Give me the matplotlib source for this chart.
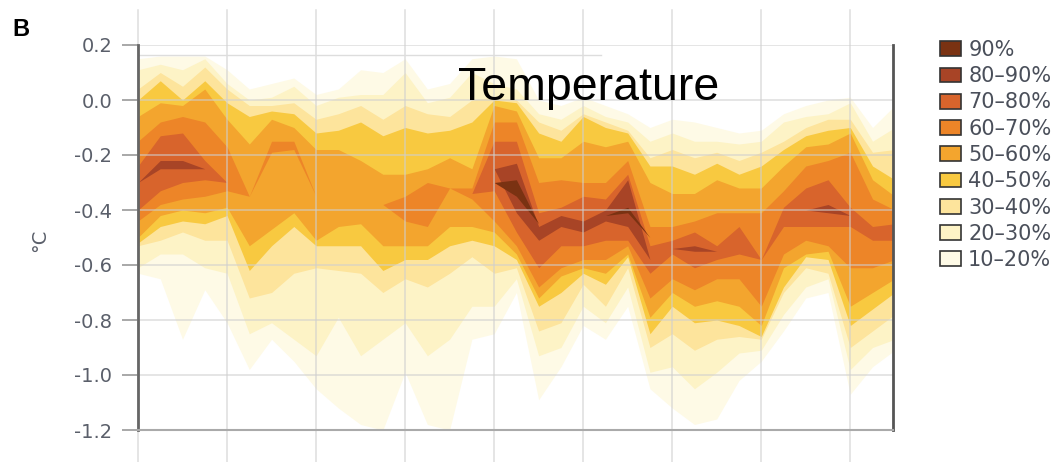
import numpy as np
import matplotlib.pyplot as plt
from matplotlib.patches import Patch

plt.rcParams['axes.unicode_minus'] = False

# sample positions along the (unlabelled) x axis, in grid-interval units
t = np.arange(35) * 0.25

# band bounds (degC), outermost 10-20% band first
b10_top = [0.15, 0.16, 0.16, 0.16, 0.11, 0.04, 0.06, 0.08, 0.02, 0.04, 0.11, 0.10, 0.15, 0.04, 0.06, 0.15, 0.16, 0.15,
           0.00, -0.02, 0.01, -0.02, -0.05, -0.10, -0.07, -0.08, -0.10, -0.12, -0.11, -0.05, -0.02, 0.00, 0.01, -0.10, -0.02]
b10_bot = [-0.63, -0.65, -0.87, -0.69, -0.81, -0.98, -0.87, -0.95, -1.05, -1.12, -1.18, -1.20, -0.99, -1.18, -1.20, -0.87,
           -0.85, -0.70, -1.09, -0.97, -0.82, -0.87, -0.75, -1.05, -1.12, -1.18, -1.16, -1.02, -0.95, -0.84, -0.72, -0.70,
           -1.07, -0.97, -0.91]
b20_top = [0.11, 0.13, 0.11, 0.15, 0.06, 0.00, 0.01, 0.05, -0.02, 0.01, 0.02, 0.02, 0.10, -0.01, 0.01, 0.10, 0.06, 0.04,
           -0.05, -0.07, -0.02, -0.06, -0.08, -0.15, -0.12, -0.15, -0.15, -0.16, -0.15, -0.08, -0.06, -0.05, -0.01, -0.15, -0.10]
b20_bot = [-0.61, -0.56, -0.56, -0.61, -0.63, -0.85, -0.81, -0.87, -0.93, -0.79, -0.93, -0.87, -0.81, -0.93, -0.87, -0.75,
           -0.75, -0.65, -0.93, -0.90, -0.75, -0.81, -0.68, -0.99, -0.97, -1.05, -0.99, -0.92, -0.91, -0.78, -0.68, -0.65,
           -0.98, -0.90, -0.87]
b30_top = [0.04, 0.10, 0.05, 0.12, 0.04, -0.02, -0.02, -0.01, -0.07, -0.05, -0.02, -0.07, -0.02, -0.05, -0.06, 0.00, 0.01,
           0.00, -0.08, -0.11, -0.05, -0.08, -0.11, -0.21, -0.18, -0.21, -0.19, -0.22, -0.19, -0.15, -0.10, -0.07, -0.07,
           -0.19, -0.18]
b30_bot = [-0.53, -0.51, -0.48, -0.51, -0.51, -0.72, -0.70, -0.63, -0.61, -0.62, -0.63, -0.70, -0.65, -0.68, -0.63, -0.57,
           -0.63, -0.61, -0.84, -0.81, -0.67, -0.75, -0.61, -0.90, -0.85, -0.91, -0.87, -0.86, -0.87, -0.70, -0.61, -0.63,
           -0.90, -0.84, -0.78]
b40_top = [0.00, 0.07, 0.00, 0.07, -0.01, -0.06, -0.04, -0.05, -0.12, -0.11, -0.08, -0.13, -0.10, -0.12, -0.11, -0.08, 0.00,
           -0.01, -0.12, -0.15, -0.06, -0.10, -0.12, -0.24, -0.24, -0.27, -0.23, -0.27, -0.24, -0.18, -0.13, -0.11, -0.10,
           -0.24, -0.29]
b40_bot = [-0.52, -0.46, -0.44, -0.45, -0.42, -0.62, -0.53, -0.46, -0.53, -0.53, -0.53, -0.62, -0.58, -0.58, -0.53, -0.51,
           -0.53, -0.58, -0.75, -0.70, -0.63, -0.67, -0.57, -0.85, -0.75, -0.81, -0.80, -0.82, -0.86, -0.68, -0.57, -0.58,
           -0.82, -0.76, -0.70]
b50_top = [-0.06, -0.01, -0.02, 0.04, -0.07, -0.16, -0.07, -0.10, -0.18, -0.18, -0.22, -0.27, -0.27, -0.25, -0.21, -0.25,
           -0.02, -0.04, -0.21, -0.21, -0.15, -0.17, -0.15, -0.30, -0.34, -0.34, -0.29, -0.32, -0.32, -0.24, -0.17, -0.16,
           -0.12, -0.29, -0.35]
b50_bot = [-0.50, -0.42, -0.40, -0.41, -0.39, -0.53, -0.47, -0.41, -0.51, -0.46, -0.45, -0.53, -0.53, -0.53, -0.46, -0.46,
           -0.48, -0.56, -0.72, -0.64, -0.61, -0.63, -0.56, -0.79, -0.70, -0.75, -0.73, -0.75, -0.82, -0.61, -0.56, -0.55,
           -0.75, -0.70, -0.65]
b60_top = [-0.15, -0.08, -0.06, -0.08, -0.17, -0.35, -0.15, -0.15, -0.35, -0.33, -0.32, -0.38, -0.35, -0.30, -0.32, -0.32,
           -0.08, -0.08, -0.30, -0.29, -0.30, -0.30, -0.22, -0.46, -0.46, -0.44, -0.41, -0.41, -0.41, -0.33, -0.24, -0.22,
           -0.19, -0.36, -0.40]
b60_bot = [-0.44, -0.38, -0.36, -0.35, -0.33, -0.35, -0.19, -0.18, -0.35, -0.33, -0.32, -0.38, -0.44, -0.46, -0.32, -0.36,
           -0.44, -0.53, -0.68, -0.61, -0.58, -0.58, -0.53, -0.72, -0.65, -0.69, -0.65, -0.65, -0.75, -0.56, -0.51, -0.53,
           -0.61, -0.61, -0.58]
b70_top = [-0.24, -0.13, -0.12, -0.22, -0.30, -0.35, -0.17, -0.17, -0.35, -0.33, -0.32, -0.38, -0.40, -0.38, -0.32, -0.34,
           -0.15, -0.15, -0.41, -0.39, -0.35, -0.36, -0.27, -0.53, -0.51, -0.48, -0.53, -0.46, -0.58, -0.39, -0.32, -0.29,
           -0.39, -0.46, -0.45]
b70_bot = [-0.40, -0.33, -0.30, -0.29, -0.30, -0.35, -0.17, -0.17, -0.35, -0.33, -0.32, -0.38, -0.40, -0.38, -0.32, -0.34,
           -0.33, -0.48, -0.61, -0.53, -0.53, -0.51, -0.51, -0.63, -0.56, -0.61, -0.58, -0.56, -0.58, -0.46, -0.46, -0.46,
           -0.46, -0.51, -0.51]
b80_top = [-0.30, -0.22, -0.22, -0.25, -0.30, -0.35, -0.17, -0.17, -0.35, -0.33, -0.32, -0.38, -0.40, -0.38, -0.32, -0.34,
           -0.25, -0.23, -0.46, -0.42, -0.44, -0.40, -0.29, -0.58, -0.54, -0.53, -0.55, -0.50, -0.58, -0.42, -0.40, -0.38,
           -0.42, -0.48, -0.48]
b80_bot = [-0.30, -0.25, -0.25, -0.25, -0.30, -0.35, -0.17, -0.17, -0.35, -0.33, -0.32, -0.38, -0.40, -0.38, -0.32, -0.34,
           -0.25, -0.41, -0.51, -0.46, -0.48, -0.44, -0.46, -0.58, -0.54, -0.55, -0.55, -0.50, -0.58, -0.42, -0.40, -0.41,
           -0.42, -0.48, -0.48]
b90_top = [-0.30, -0.30, -0.30, -0.30, -0.30, -0.30, -0.30, -0.30, -0.30, -0.30, -0.30, -0.30, -0.30, -0.30, -0.30, -0.30,
           -0.30, -0.29, -0.45, -0.44, -0.44, -0.42, -0.39, -0.50, -0.50, -0.50, -0.50, -0.50, -0.50, -0.50, -0.50, -0.50,
           -0.50, -0.50, -0.50]
b90_bot = [-0.30, -0.30, -0.30, -0.30, -0.30, -0.30, -0.30, -0.30, -0.30, -0.30, -0.30, -0.30, -0.30, -0.30, -0.30, -0.30,
           -0.30, -0.35, -0.45, -0.44, -0.44, -0.42, -0.41, -0.50, -0.50, -0.50, -0.50, -0.50, -0.50, -0.50, -0.50, -0.50,
           -0.50, -0.50, -0.50]

bands = [
    ("10\u201320%", "#fefae6", b10_top, b10_bot),
    ("20\u201330%", "#fdf3c6", b20_top, b20_bot),
    ("30\u201340%", "#fde49c", b30_top, b30_bot),
    ("40\u201350%", "#f8c940", b40_top, b40_bot),
    ("50\u201360%", "#f3a52e", b50_top, b50_bot),
    ("60\u201370%", "#ed8528", b60_top, b60_bot),
    ("70\u201380%", "#d8642c", b70_top, b70_bot),
    ("80\u201390%", "#a84426", b80_top, b80_bot),
    ("90%", "#7a3212", b90_top, b90_bot),
]

yticks = [0.2, 0.0, -0.2, -0.4, -0.6, -0.8, -1.0, -1.2]

W, H = 1064, 462
fig = plt.figure(figsize=(W / 100, H / 100), dpi=100)
ax = fig.add_axes([138 / W, 1 - 430 / H, (893 - 138) / W, 385 / H])

for label, color, top, bot in bands:
    ax.fill_between(t, bot, top, color=color, linewidth=0, zorder=1)

ax.set_xlim(0, 8.48)
ax.set_ylim(-1.2, 0.2)
ax.set_yticks(yticks)
ax.set_yticklabels([f"{v:.1f}" for v in yticks])
ax.set_xticks(range(9))
ax.set_xticklabels([])
ax.tick_params(axis='x', length=0)
ax.tick_params(axis='y', length=11.5, width=1.2, color='#999999', labelsize=14,
               labelcolor='#5a5f6a', pad=7)

# grid lines, the vertical ones run past the frame like in the original
for y in yticks:
    ax.axhline(y, color='#cfcfcf', lw=1.1, alpha=0.7, zorder=2)
for x in range(9):
    ax.axvline(x, ymin=-0.085, ymax=1.09, color='#cfcfcf', lw=1.1, alpha=0.7,
               clip_on=False, zorder=2)
ax.plot([0, 5.2], [0.165, 0.165], color='#dddddd', lw=1, zorder=2)

ax.spines['top'].set_visible(False)
ax.spines['left'].set_color('#666666')
ax.spines['left'].set_linewidth(2)
ax.spines['right'].set_color('#555555')
ax.spines['right'].set_linewidth(2)
ax.spines['bottom'].set_color('#aaaaaa')
ax.spines['bottom'].set_linewidth(1.5)

fig.text(40 / W, 1 - 240 / H, "\u00b0C", rotation=90, fontsize=14, color='#5a5f6a',
         ha='center', va='center')
fig.text(12 / W, 1 - 29 / H, "B", fontsize=17, fontweight='bold', family='Liberation Sans',
         ha='left', va='center')
fig.text(458 / W, 1 - 100 / H, "Temperature", fontsize=33.5, family='Liberation Sans',
         ha='left', va='baseline')

handles = [Patch(facecolor=c, edgecolor='#333333', linewidth=1.2, label=lab)
           for lab, c, _, _ in bands[::-1]]
fig.legend(handles=handles, loc='upper left', bbox_to_anchor=(940 / W, 1 - 40 / H),
           frameon=False, fontsize=15, handlelength=1.0, handleheight=0.7,
           handletextpad=0.35, labelspacing=0.3, borderpad=0, borderaxespad=0,
           labelcolor='#4a4f5a')

fig.savefig("out.png", dpi=100)
